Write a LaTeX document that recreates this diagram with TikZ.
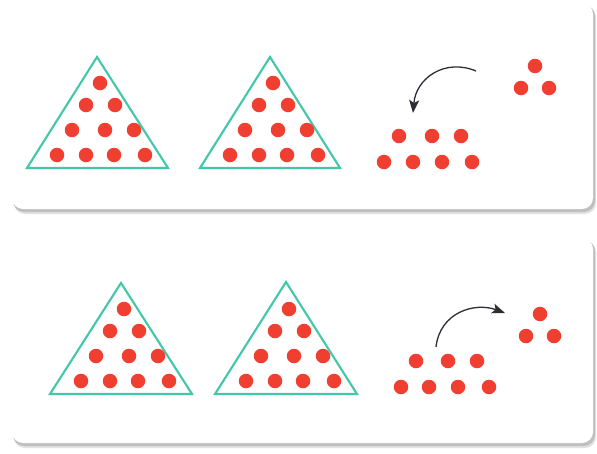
\documentclass[tikz,border=0pt]{standalone}
\usetikzlibrary{arrows.meta}
\definecolor{teal1}{RGB}{66,200,168}
\definecolor{dotred}{RGB}{240,62,48}
\definecolor{arrowc}{RGB}{45,45,55}
\tikzset{
  dot/.style={circle,fill=dotred,minimum size=14.5pt,inner sep=0pt,draw=none},
  tri/.style={draw=teal1,line width=2.1pt,line join=miter},
  panel/.style={fill=white,rounded corners=11pt},
  shadowc/.style={fill=black!45,rounded corners=11pt},
  curvearrow/.style={draw=arrowc,line width=1.3pt,-{Stealth[length=13pt,width=10pt,inset=3pt]}}
}
\begin{document}
\begin{tikzpicture}[x=1pt,y=-1pt]
\useasboundingbox (0,0) rectangle (597,453);
\fill[white] (0,0) rectangle (597,453);
% panels with shadows
\foreach \t/\b/\n in {3/209/p1, 238/443/p2}{
  \fill[shadowc,opacity=0.25] (14,\t+3) rectangle (596,\b+5);
  \fill[shadowc,opacity=0.4] (13,\t+2) rectangle (595,\b+3);
  \fill[panel] (12,\t) rectangle (593,\b);
}
% top panel triangles
\draw[tri] (97,57) -- (27,168) -- (168,168) -- cycle;
\draw[tri] (270,57) -- (200,168) -- (340,168) -- cycle;
% bottom panel triangles
\draw[tri] (121,283) -- (50,394) -- (192,394) -- cycle;
\draw[tri] (286,282) -- (215,394) -- (357,394) -- cycle;
% dots in triangles
\foreach \dx/\dy/\p in {0/0/a, 173/0/b, 24/226/c, 189/226/d}{
  \foreach \x/\y/\k in {100/83/1, 86/105/2, 115/105/3, 72/130/4, 105/130/5, 134/130/6, 57/155/7, 86/155/8, 114/155/9, 145/155/10}{
    \node[dot] (\p\k) at (\x+\dx,\y+\dy) {};
  }
}
% top right groups
\foreach \x/\y/\k in {399/136/1, 432/136/2, 461/136/3, 384/162/4, 413/162/5, 442/162/6, 472/162/7}{
  \node[dot] (e\k) at (\x,\y) {};
}
\foreach \x/\y/\k in {535/66/1, 521/88/2, 549/88/3}{
  \node[dot] (f\k) at (\x,\y) {};
}
% bottom right groups
\foreach \x/\y/\k in {416/361/1, 448/361/2, 477/361/3, 401/387/4, 429/387/5, 458/387/6, 489/387/7}{
  \node[dot] (g\k) at (\x,\y) {};
}
\foreach \x/\y/\k in {540/314/1, 526/336/2, 554/336/3}{
  \node[dot] (h\k) at (\x,\y) {};
}
% arrows
\coordinate (s1) at (476,71);
\coordinate (t1) at (413,113);
\coordinate (s2) at (436,347);
\coordinate (t2) at (505,313);
\draw[curvearrow] (s1) .. controls (445,58) and (416,78) .. (t1);
\draw[curvearrow] (s2) .. controls (440,312) and (475,302) .. (t2);
\end{tikzpicture}
\end{document}
